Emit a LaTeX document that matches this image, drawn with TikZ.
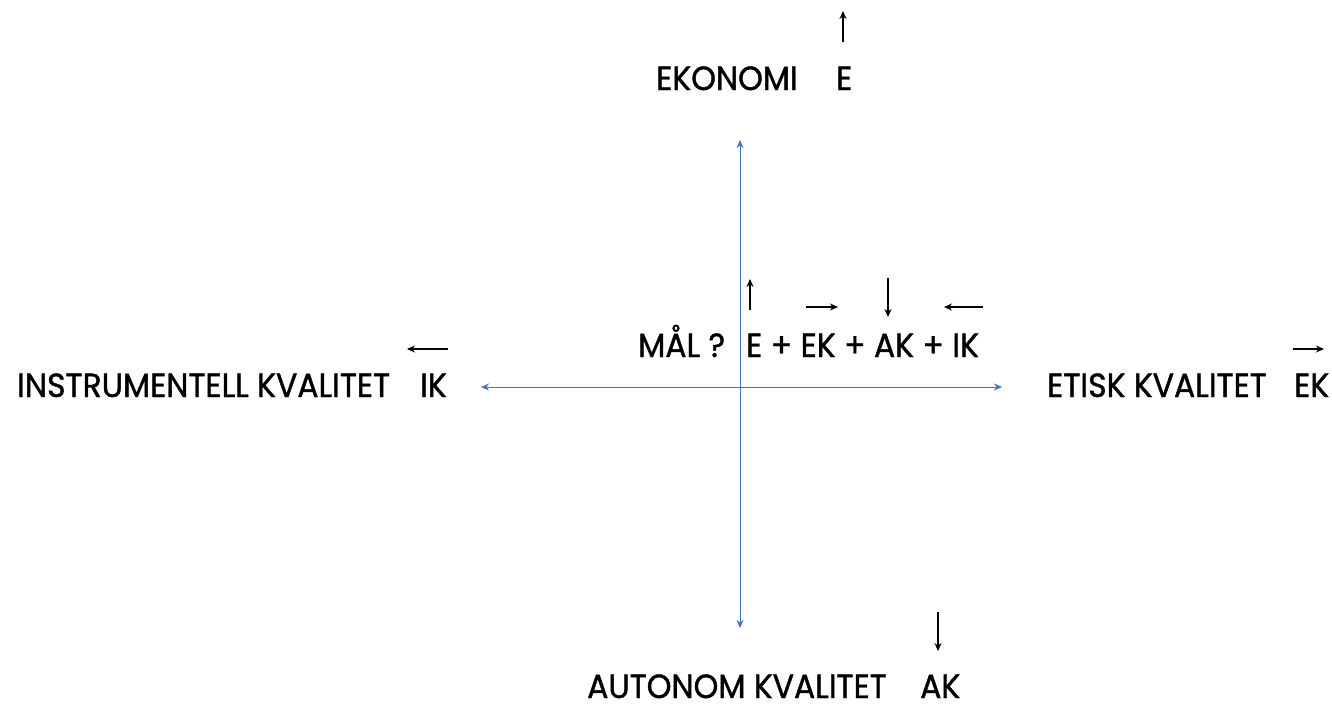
\documentclass[tikz,border=0pt]{standalone}
\usepackage{fontspec}
\setmainfont{Poppins}[FakeStretch=0.94,FakeBold=1.2]
\usetikzlibrary{arrows.meta}
\definecolor{axisblue}{HTML}{4472C4}
\tikzset{
  lbl/.style={anchor=base west, inner sep=0pt, text depth=0pt, font=\fontsize{33.5}{34}\selectfont, text=black},
  axis/.style={draw=axisblue, line width=1pt, {Stealth[length=8pt,width=7pt]}-{Stealth[length=8pt,width=7pt]}},
  vec/.style={draw=black, line width=1.1pt, -{Stealth[length=8pt,width=7pt]}}
}
\begin{document}
\begin{tikzpicture}[x=1pt,y=-1pt]
\useasboundingbox (0,0) rectangle (1332,707);
% axes
\coordinate (top) at (740,140);
\coordinate (bot) at (740,628);
\coordinate (lft) at (481,387);
\coordinate (rgt) at (1002,387);
\draw[axis] (top) -- (bot);
\draw[axis] (lft) -- (rgt);
% labels
\node[lbl] (eko) at (656,90) {EKONOMI};
\node[lbl] (ekoE) at (836,90) {E};
\node[lbl] (mal) at (638,357) {MÅL ?};
\node[lbl] (sum) at (746,357) {E + EK + AK + IK};
\node[lbl] (ik) at (17,397) {INSTRUMENTELL KVALITET};
\node[lbl] (ikS) at (420,397) {IK};
\node[lbl] (ek) at (1047,397) {ETISK KVALITET};
\node[lbl] (ekS) at (1294,397) {EK};
\node[lbl] (ak) at (587,698) {AUTONOM KVALITET};
\node[lbl] (akS) at (920,698) {AK};
% small arrows
\coordinate (a1s) at (843,42); \coordinate (a1e) at (843,11);
\draw[vec] (a1s) -- (a1e);
\coordinate (a2s) at (750,310); \coordinate (a2e) at (750,279);
\draw[vec] (a2s) -- (a2e);
\coordinate (a3s) at (806,307); \coordinate (a3e) at (838,307);
\draw[vec] (a3s) -- (a3e);
\coordinate (a4s) at (888,278); \coordinate (a4e) at (888,317);
\draw[vec] (a4s) -- (a4e);
\coordinate (a5s) at (983,307); \coordinate (a5e) at (944,307);
\draw[vec] (a5s) -- (a5e);
\coordinate (a6s) at (448,349); \coordinate (a6e) at (407,349);
\draw[vec] (a6s) -- (a6e);
\coordinate (a7s) at (1293,349); \coordinate (a7e) at (1324,349);
\draw[vec] (a7s) -- (a7e);
\coordinate (a8s) at (938,612); \coordinate (a8e) at (938,651);
\draw[vec] (a8s) -- (a8e);
\end{tikzpicture}
\end{document}
